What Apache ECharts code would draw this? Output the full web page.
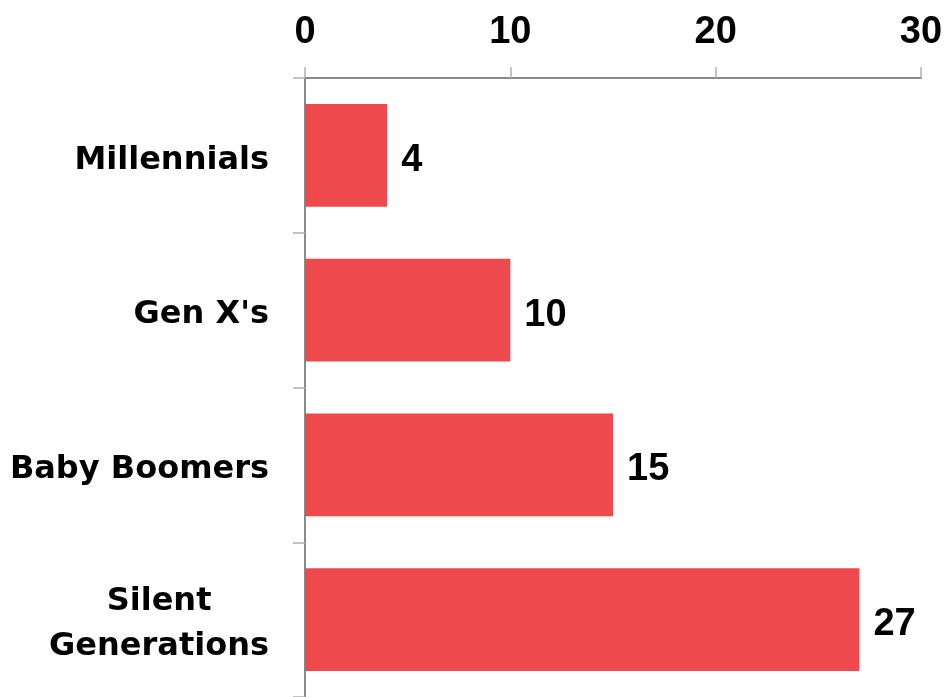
<!DOCTYPE html>
<html>
<head>
<meta charset="utf-8">
<script src="https://cdn.jsdelivr.net/npm/echarts@6/dist/echarts.min.js"></script>
<style>
  html, body { margin: 0; padding: 0; background: #fff; }
  #chart { width: 948px; height: 697px; }
</style>
</head>
<body>
<div id="chart"></div>
<script>
// Generations, top to bottom
const categories = ['Millennials', "Gen X's", 'Baby Boomers', 'Silent\nGenerations'];
const values = [4, 10, 15, 27];
const xTicks = [0, 10, 20, 30];

const labelFont = 'DejaVu Sans';
const numberFont = 'Liberation Sans';

const chart = echarts.init(document.getElementById('chart'));
chart.setOption({
  backgroundColor: '#ffffff',
  animation: false,
  grid: { left: 305, right: 27, top: 78, height: 620, containLabel: false },
  xAxis: {
    type: 'value',
    position: 'top',
    min: xTicks[0],
    max: xTicks[xTicks.length - 1],
    interval: xTicks[1] - xTicks[0],
    axisLine: { show: true, lineStyle: { color: '#8a8a8a', width: 2 } },
    axisTick: { show: true, length: 11, lineStyle: { color: '#b0b0b0', width: 1.5 } },
    splitLine: { show: false },
    axisLabel: {
      margin: 26,
      color: '#000',
      fontFamily: numberFont,
      fontWeight: 'bold',
      fontSize: 38
    }
  },
  yAxis: {
    type: 'category',
    inverse: true,
    data: categories,
    axisLine: { show: true, lineStyle: { color: '#8a8a8a', width: 2 } },
    axisTick: { show: true, length: 12, lineStyle: { color: '#b0b0b0', width: 1.5 } },
    axisLabel: {
      margin: 36,
      padding: [10, 0, 0, 0],
      color: '#000',
      fontFamily: labelFont,
      fontWeight: 'bold',
      fontSize: 32,
      lineHeight: 45,
      formatter: function (v) {
        return v.indexOf('\n') >= 0 ? '{c|' + v.split('\n').join('}\n{c|') + '}' : v;
      },
      rich: {
        c: {
          align: 'center',
          color: '#000',
          fontFamily: labelFont,
          fontWeight: 'bold',
          fontSize: 32,
          lineHeight: 45
        }
      }
    }
  },
  series: [{
    type: 'bar',
    data: values,
    barCategoryGap: '33.5%',
    itemStyle: { color: '#ee494c' },
    label: {
      show: true,
      position: 'right',
      distance: 14,
      offset: [0, 5],
      color: '#000',
      fontFamily: numberFont,
      fontWeight: 'bold',
      fontSize: 38
    }
  }]
});
</script>
</body>
</html>
